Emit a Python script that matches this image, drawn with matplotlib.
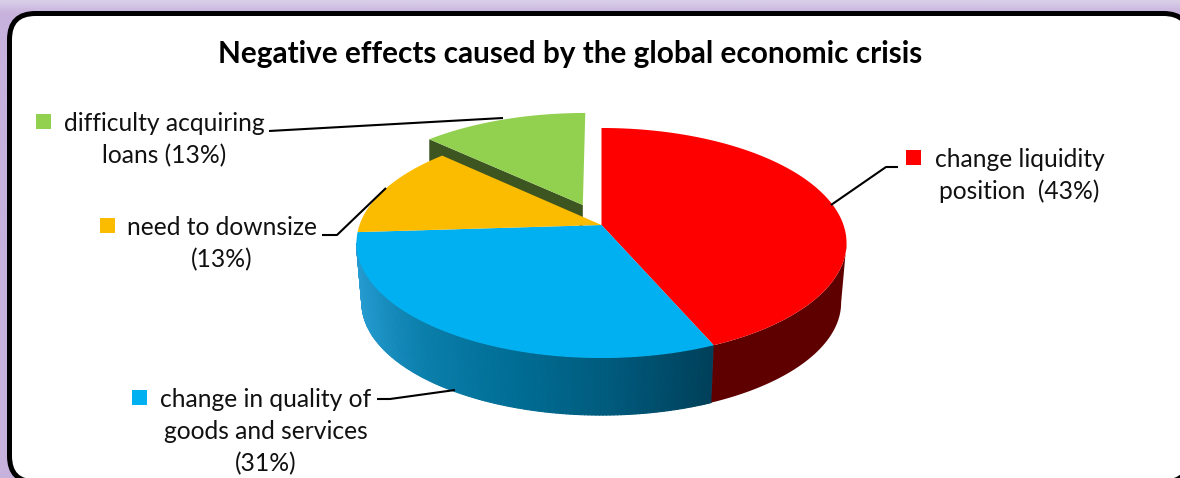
import numpy as np
import matplotlib
matplotlib.use("Agg")
import matplotlib.pyplot as plt
from matplotlib.patches import Polygon, FancyBboxPatch, Rectangle
from matplotlib.collections import PolyCollection
from matplotlib.colors import LinearSegmentedColormap

plt.rcParams['font.family'] = ['Lato', 'DejaVu Sans']

# data (clockwise from 12 o'clock)
categories = ["change liquidity\nposition  (43%)", "change in quality of\ngoods and services\n(31%)",
              "need to downsize\n(13%)", "difficulty acquiring\nloans (13%)"]
shares = [43.5, 30.5, 13.0, 13.0]
face_colors = ["#FF0000", "#00B0F0", "#FBBC00", "#92D050"]
title = "Negative effects caused by the global economic crisis"

# projection of the pie
CX, CY = 601.5, 225.0
D, P, C = 242.0, 112.2, 0.1565
DEPTH_Y, SHRINK = 60.0, 0.978
EXPLODE = 0.2
SIL_R, SIL_L = 99.0, 261.0   # silhouette angles of the wall

fig = plt.figure(figsize=(11.8, 4.78), dpi=100)
ax = fig.add_axes([0, 0, 1, 1])


def proj(X, Y, bottom=False):
    w = 1 + C * Y
    s = SHRINK if bottom else 1.0
    return CX + s * D * X / w, CY + (DEPTH_Y if bottom else 0) - s * P * Y / w


def rim(a0, a1, off=(0, 0), bottom=False, n=200):
    t = np.radians(np.linspace(a0, a1, n))
    return proj(np.sin(t) + off[0], np.cos(t) + off[1], bottom)


# background
bg = LinearSegmentedColormap.from_list("bg", [(0, "#DACFE8"), (0.025, "#C6B2DC"), (1, "#C8B2DE")])
ax.imshow(np.linspace(0, 1, 480)[:, None], extent=(0, 1180, 478, 0), cmap=bg, aspect='auto', zorder=0)
ax.set_xlim(0, 1180); ax.set_ylim(478, 0); ax.axis('off')
ax.add_patch(FancyBboxPatch((9.5, 13.5), 1180, 468.5, boxstyle="round,pad=0,rounding_size=26",
                            fc="white", ec="black", lw=3.6, zorder=1))

edges = np.concatenate([[0], np.cumsum(shares)]) * 3.6
A = edges[:-1]; B = edges[1:]

# side walls
side_cmap = LinearSegmentedColormap.from_list("side", ["#2A9FD6", "#1D93C6", "#0A7EAA", "#006E96", "#005A7C", "#00405A"])
N = 140
xt, yt = rim(SIL_L, A[1], n=N + 1)
xb, yb = rim(SIL_L, A[1], bottom=True, n=N + 1)
polys = [[(xt[i], yt[i]), (xt[i + 1], yt[i + 1]), (xb[i + 1], yb[i + 1]), (xb[i], yb[i])] for i in range(N)]
cols = side_cmap(np.linspace(0, 1, N))
pc = PolyCollection(polys, zorder=2, facecolors=cols, edgecolors=cols, linewidths=0.8, antialiaseds=True)
ax.add_collection(pc)

xt, yt = rim(SIL_R, A[1]); xb, yb = rim(SIL_R, A[1], bottom=True)
ax.add_patch(Polygon(np.r_[np.c_[xt, yt], np.c_[xb, yb][::-1]], fc="#5F0000", ec="none", zorder=3))

# exploded slice wall
m = np.radians((A[3] + B[3]) / 2)
off = (EXPLODE * np.sin(m), EXPLODE * np.cos(m))
lx, ly = rim(A[3], A[3], off=off, n=1)
ax0, ay0 = proj(off[0], off[1])
ax.add_patch(Polygon([(lx[0], ly[0]), (ax0, ay0), (ax0, ay0 + 22), (lx[0], ly[0] + 22)],
                     fc="#3D5520", ec="none", zorder=3))

# faces
for i, col in enumerate(face_colors):
    o = off if i == 3 else (0, 0)
    x, y = rim(A[i], B[i], off=o)
    c = proj(o[0], o[1])
    ax.add_patch(Polygon(np.r_[[c], np.c_[x, y]], fc=col, ec="none", zorder=4))

# title
ax.text(570, 54, title, ha='center', va='center', fontsize=21.4, fontweight='bold', color='black', zorder=6)

# labels
label_pos = [(1019.5, 175.5), (266, 431.5), (222, 243.5), (164, 140)]
marker_pos = [(906, 150), (132, 390), (100, 218), (36, 114)]
leaders = [[(831, 205), (886, 167), (898, 167)],
           [(377, 399), (390, 399), (455, 390)],
           [(322, 235), (337, 235), (386, 188)],
           [(269, 131), (503, 118)]]
for name, pos, mk, col, ld in zip(categories, label_pos, marker_pos, face_colors, leaders):
    ax.text(pos[0], pos[1], name, ha='center', va='center', fontsize=17.7, linespacing=1.47, color='#111111', zorder=6)
    ax.add_patch(Rectangle(mk, 14.5, 14.5, fc=col, ec='none', zorder=6))
    ax.plot(*zip(*ld), color='black', lw=1.5, zorder=5, solid_capstyle='butt')

fig.savefig("out.png", dpi=100)
